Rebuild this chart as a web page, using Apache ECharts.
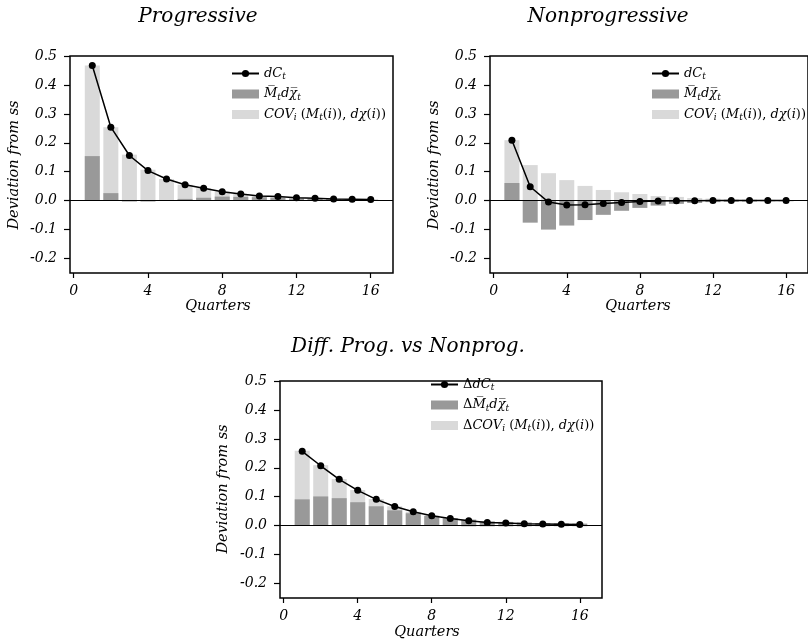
<!DOCTYPE html>
<html>
<head>
<meta charset="utf-8">
<script src="https://cdn.jsdelivr.net/npm/echarts@6/dist/echarts.min.js"></script>
<style>
html,body{margin:0;padding:0;background:#fff;}
#chart{width:808px;height:642px;}
</style>
</head>
<body>
<div id="chart"></div>
<script>
// ---- data ----
const quarters = [1,2,3,4,5,6,7,8,9,10,11,12,13,14,15,16];
const xTicks = [0,4,8,12,16];
const yTicks = [-0.2,-0.1,0.0,0.1,0.2,0.3,0.4,0.5];

const progC   = [0.467,0.254,0.156,0.104,0.075,0.055,0.043,0.031,0.023,0.016,0.014,0.010,0.008,0.006,0.005,0.004];
const progM   = [0.154,0.026,-0.003,-0.003,0.001,0.006,0.010,0.014,0.013,0.012,0.009,0.007,0.006,0.005,0.004,0.003];
const progCov = [0.313,0.228,0.159,0.107,0.074,0.049,0.033,0.017,0.010,0.004,0.005,0.003,0.002,0.001,0.001,0.001];

const nonC   = [0.209,0.048,-0.005,-0.015,-0.014,-0.010,-0.006,-0.003,-0.001,0.000,0.000,0.001,0.001,0.001,0.001,0.001];
const nonM   = [0.061,-0.076,-0.100,-0.086,-0.067,-0.049,-0.035,-0.025,-0.017,-0.011,-0.008,-0.005,-0.004,-0.003,-0.002,-0.002];
const nonCov = [0.148,0.123,0.095,0.071,0.051,0.037,0.029,0.023,0.016,0.013,0.009,0.007,0.005,0.004,0.003,0.002];

const diffC   = [0.257,0.207,0.160,0.122,0.091,0.066,0.048,0.034,0.025,0.017,0.011,0.009,0.007,0.006,0.005,0.004];
const diffM   = [0.091,0.101,0.095,0.081,0.067,0.053,0.043,0.034,0.026,0.021,0.015,0.013,0.011,0.009,0.008,0.007];
const diffCov = [0.168,0.108,0.066,0.042,0.025,0.014,0.005,0.001,0.000,-0.004,-0.004,-0.004,-0.004,-0.003,-0.003,-0.003];

const titles = ['Progressive','Nonprogressive','Diff. Prog. vs Nonprog.'];
const yName = 'Deviation from ss';
const xName = 'Quarters';

// ---- layout ----
const FONT = 'DejaVu Serif';
const DARK = '#999999', LIGHT = '#d9d9d9';
const panels = [
  {left:70,  top:56,  width:323, height:217, C:progC, M:progM, Cov:progCov, delta:false,
   title:[198,17], yname:[14,165], xname:[218,306], legend:[231,66]},
  {left:490, top:56,  width:323, height:217, C:nonC, M:nonM, Cov:nonCov, delta:false,
   title:[608,17], yname:[434,165], xname:[638,306], legend:[651,66]},
  {left:280, top:381, width:322, height:217, C:diffC, M:diffM, Cov:diffCov, delta:true,
   title:[408,347], yname:[223,489], xname:[427,632], legend:[430,377]}
];

// same-sign stacking: the covariance bar sits on the mean bar when both share a sign
function stackTop(m, c) { return ((m >= 0) === (c >= 0)) ? m + c : c; }

const grids = [], xAxes = [], yAxes = [], series = [], legends = [], graphics = [];
const legendText = {};

panels.forEach((p, i) => {
  grids.push({left:p.left, top:p.top, width:p.width, height:p.height,
    show:true, borderColor:'#000', borderWidth:1.5, backgroundColor:'transparent'});
  xAxes.push({type:'value', gridIndex:i, min:-0.2, max:17.2,
    axisLine:{show:false, onZero:false},
    axisTick:{show:true, length:5, inside:false, customValues:xTicks, lineStyle:{color:'#000', width:1.2}},
    axisLabel:{customValues:xTicks, margin:11, color:'#000', fontFamily:FONT, fontStyle:'italic', fontSize:14},
    splitLine:{show:false}});
  yAxes.push({type:'value', gridIndex:i, min:-0.25, max:0.5,
    axisLine:{show:false, onZero:false},
    axisTick:{show:true, length:6, customValues:yTicks, lineStyle:{color:'#000', width:1.2}},
    axisLabel:{customValues:yTicks, margin:13, color:'#000', fontFamily:FONT, fontStyle:'italic', fontSize:14,
      formatter:v => v.toFixed(1)},
    splitLine:{show:false}});
  const nC = 'C'+i, nM = 'M'+i, nV = 'V'+i;
  legendText[nC] = (p.delta ? '{u|Δ}' : '') + '{i|dC}{s|t}';
  legendText[nM] = (p.delta ? '{u|Δ}' : '') + '{i|M\u0305}{s|t}{i|d\u03C7\u0305}{s|t}';
  legendText[nV] = (p.delta ? '{u|Δ}' : '') + '{i|COV}{s|i}{u| (}{i|M}{s|t}{u|(}{i|i}{u|)), }{i|d\u03C7}{u|(}{i|i}{u|))}';
  series.push({type:'bar', name:nV, xAxisIndex:i, yAxisIndex:i, barWidth:15,
    itemStyle:{color:LIGHT}, z:2, silent:true,
    data:quarters.map((q,k)=>[q, stackTop(p.M[k], p.Cov[k])])});
  series.push({type:'bar', name:nM, xAxisIndex:i, yAxisIndex:i, barWidth:15, barGap:'-100%',
    itemStyle:{color:DARK}, z:2, silent:true,
    data:quarters.map((q,k)=>[q, p.M[k]])});
  series.push({type:'line', name:'zero'+i, xAxisIndex:i, yAxisIndex:i, data:[], z:3, silent:true,
    markLine:{silent:true, symbol:'none', label:{show:false}, animation:false,
      lineStyle:{color:'#000', width:1.2, type:'solid'}, data:[{yAxis:0}]}});
  series.push({type:'line', name:nC, xAxisIndex:i, yAxisIndex:i, z:5, silent:true,
    symbol:'circle', symbolSize:7, lineStyle:{color:'#000', width:1.5}, itemStyle:{color:'#000'},
    data:quarters.map((q,k)=>[q, p.C[k]])});
  legends.push({orient:'vertical', left:p.legend[0], top:p.legend[1], padding:0,
    itemWidth:27, itemHeight:9, itemGap:5, selectedMode:false,
    data:[{name:nC}, {name:nM, icon:'rect'}, {name:nV, icon:'rect'}],
    formatter:n => legendText[n],
    textStyle:{color:'#000', fontFamily:FONT, fontSize:13, lineHeight:15,
      rich:{
        i:{fontFamily:FONT, fontStyle:'italic', fontSize:13, color:'#000'},
        u:{fontFamily:FONT, fontSize:13, color:'#000'},
        s:{fontFamily:FONT, fontStyle:'italic', fontSize:9, color:'#000', padding:[7,0,0,0]}
      }}});
  graphics.push({type:'text', x:p.title[0], y:p.title[1],
    style:{text:titles[i], font:'italic 20px "' + FONT + '"', fill:'#000', align:'center', verticalAlign:'middle'}});
  graphics.push({type:'text', x:p.yname[0], y:p.yname[1], rotation:Math.PI/2,
    style:{text:yName, font:'italic 14.5px "' + FONT + '"', fill:'#000', align:'center', verticalAlign:'middle'}});
  graphics.push({type:'text', x:p.xname[0], y:p.xname[1],
    style:{text:xName, font:'italic 14.5px "' + FONT + '"', fill:'#000', align:'center', verticalAlign:'middle'}});
});

const chart = echarts.init(document.getElementById('chart'), null, {renderer:'canvas'});
chart.setOption({
  animation:false,
  backgroundColor:'#fff',
  grid:grids, xAxis:xAxes, yAxis:yAxes, series:series, legend:legends, graphic:graphics
});
</script>
</body>
</html>
